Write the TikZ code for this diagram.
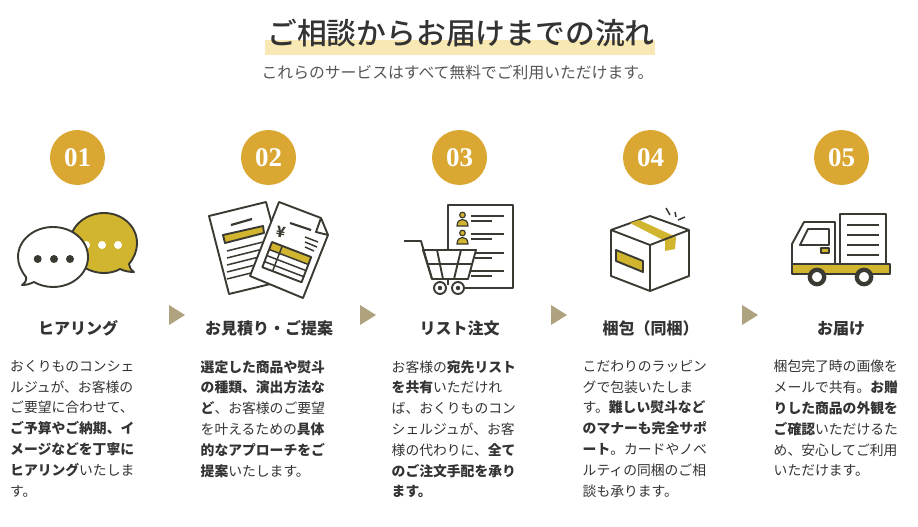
\documentclass[tikz,border=0pt]{standalone}
\usepackage{fontspec}
\setmainfont{Noto Sans CJK JP}
\newfontfamily\numfont{Liberation Serif}
\newfontfamily\titlefont{Noto Sans CJK JP Medium}
\usetikzlibrary{positioning}
\definecolor{flowGold}{HTML}{DAA732}
\definecolor{flowYellow}{HTML}{D2B52F}
\definecolor{flowMark}{HTML}{F8E8B4}
\definecolor{flowArrow}{HTML}{AFA27F}
\definecolor{flowLine}{HTML}{3A3A32}
\definecolor{textDark}{HTML}{333333}
\definecolor{textMuted}{HTML}{555555}
\tikzset{
  stepnum/.style={circle, fill=flowGold, minimum size=55pt, inner sep=0pt, text=white, font=\numfont\bfseries\fontsize{27}{27}\selectfont},
  stephead/.style={text=textDark, inner sep=0pt, font=\bfseries\fontsize{16}{18}\selectfont},
  stepbody/.style={anchor=north west, inner sep=0pt, align=left, text=textDark, font=\fontsize{13.8}{20.8}\selectfont},
  icon/.style={draw=flowLine, line width=1.9pt, line join=round},
  thin line/.style={draw=flowLine, line width=1.5pt},
  stepmark/.style={fill=flowArrow}
}
\begin{document}
\begin{tikzpicture}[x=1pt, y=-1pt]
  \useasboundingbox (0,0) rectangle (918,527);
  % title
  \fill[flowMark] (265,40) rectangle (655,55);
  \node[inner sep=0pt, text=textDark, font=\titlefont\fontsize{29.8}{32}\selectfont] (title) at (461,33) {ご相談からお届けまでの流れ};
  \node[inner sep=0pt, text=textMuted, font=\fontsize{15.8}{18}\selectfont] (subtitle) at (457.5,73) {これらのサービスはすべて無料でご利用いただけます。};
  % numbers
  \foreach \cx/\num in {77.5/01, 268.5/02, 459.5/03, 650.5/04, 841.5/05}
    \node[stepnum] (num\num) at (\cx,157.5) {\num};
  % triangles between the steps
  \foreach \tx in {169,360,551,742}
    \fill[stepmark] (\tx,305) -- (\tx+16,315) -- (\tx,325) -- cycle;
  % icon 1
  \draw[icon, fill=flowYellow] (134,272) .. controls (131,270) and (129,267) .. (129,264) .. controls (134,258) and (137,251) .. (137,243) .. controls (137,226) and (122,213) .. (104,213) .. controls (86,213) and (70,226) .. (70,243) .. controls (70,260) and (86,273) .. (104,273) .. controls (109,273) and (115,272) .. (120,269) .. controls (124,271) and (129,272) .. (134,272) -- cycle;
  \foreach \dx in {86,102,118}
    \fill[white] (\dx,245) circle (4);
  \draw[icon, fill=white] (22,285) .. controls (25,283) and (27,280) .. (26,277) .. controls (21,271) and (18,264) .. (18,257) .. controls (18,240) and (34,227) .. (53,227) .. controls (72,227) and (88,240) .. (88,257) .. controls (88,274) and (72,287) .. (53,287) .. controls (46,287) and (39,285) .. (34,282) .. controls (30,284) and (26,285) .. (22,285) -- cycle;
  \foreach \dx in {37.7,54,70}
    \fill[flowLine] (\dx,259) circle (4);
  % icon 2
  \draw[icon, fill=white] (209,216) -- (266,202) -- (287,280) -- (229,294) -- cycle;
  \draw[flowLine, line width=2.2pt] (231,225) -- (252,219);
  \draw[icon, fill=flowYellow] (223,235) -- (263,226) -- (264,233) -- (225,243) -- cycle;
  \foreach \ly in {251,258,265,272,279}
    \draw[thin line] (227,\ly) -- (275,\ly-12);
  \draw[icon, fill=white] (279,202) -- (321,218) -- (328,235) -- (303,298) -- (250,276) -- cycle;
  \draw[icon] (321,218) -- (316,232) -- (328,235);
  \draw[flowLine, line width=2.2pt] (290,223) -- (311,230);
  \node[rotate=-12, inner sep=0pt, text=flowLine, font=\bfseries\fontsize{15}{15}\selectfont] (yen) at (281,232) {¥};
  \draw[thin line] (305,237) -- (318,242);
  \draw[thin line] (305,242) -- (317,247);
  \draw[thin line] (305,247) -- (314,251);
  \begin{scope}[shift={(272,242)}, rotate=-21]
    \fill[flowYellow] (0,0) rectangle (42,8);
    \draw[icon] (0,0) rectangle (42,27);
    \foreach \ry in {8,14.5,21}
      \draw[thin line] (0,\ry) -- (42,\ry);
    \draw[thin line] (11,0) -- (11,27);
  \end{scope}
  % icon 3
  \draw[icon] (448,249) -- (448,205) -- (513,205) -- (513,288) -- (463,288);
  \foreach \py in {215,233} {
    \draw[flowLine, line width=1.2pt, fill=flowYellow] (462.5,\py) circle (2.8);
    \draw[flowLine, line width=1.2pt, fill=flowYellow] (457,\py+11) .. controls (457,\py+6) and (460,\py+4.5) .. (462.5,\py+4.5) .. controls (465,\py+4.5) and (468,\py+6) .. (468,\py+11) -- cycle;
  }
  \foreach \ly/\lx in {216/471,234/471,253/475,271/471} {
    \draw[thin line] (\lx,\ly) -- (504,\ly);
    \draw[thin line] (\lx,\ly+5) -- (492,\ly+5);
  }
  \draw[icon, fill=white] (423,250) -- (476,250) -- (468,279) -- (432,279) -- cycle;
  \draw[icon] (404,241) -- (421,241) -- (432,279);
  \draw[icon] (427,264) -- (473,264);
  \draw[icon] (437,250) -- (443,279);
  \draw[icon] (461,250) -- (454,279);
  \draw[icon] (448,279) -- (448,285);
  \foreach \wx in {440,458} {
    \draw[icon, fill=white] (\wx,288) circle (6);
    \fill[flowLine] (\wx,288) circle (2.2);
  }
  % icon 4
  \draw[icon, fill=white] (611,230) -- (650,216) -- (689,230) -- (689,276) -- (650,291) -- (611,276) -- cycle;
  \fill[flowYellow] (630,223) -- (639,220) -- (676,237) -- (675,249) -- (665,251) -- (665,241) -- cycle;
  \draw[icon] (611,230) -- (650,245) -- (689,230);
  \draw[icon] (650,245) -- (650,291);
  \draw[icon, fill=flowYellow] (616,250) -- (643,261) -- (643,272) -- (616,261) -- cycle;
  \draw[thin line] (666,208) -- (670,215);
  \draw[thin line] (675,212) -- (676,217);
  \draw[thin line] (678,220) -- (685,217);
  % icon 5
  \draw[icon] (840,264) -- (840,214) -- (886,214) -- (886,264);
  \foreach \ly in {225,235,245,255}
    \draw[thin line] (847,\ly) -- (879,\ly);
  \draw[icon] (792,264) -- (792,244) -- (804,222) -- (835,222) -- (835,264);
  \draw[icon] (800,245) -- (808,229) -- (829,229) -- (829,245) -- cycle;
  \draw[icon, line width=1.2pt, fill=flowYellow] (821,248) rectangle (829,253);
  \draw[icon, fill=flowYellow] (792,264) rectangle (890,274);
  \foreach \wx in {817,864}
    \draw[flowLine, line width=4.3pt, fill=white] (\wx,277) circle (7.2);
  % headings
  \node[stephead] (head1) at (78,328.5) {ヒアリング};
  \node[stephead] (head2) at (269,328.5) {お見積り・ご提案};
  \node[stephead] (head3) at (459.5,328.5) {リスト注文};
  \node[stephead] (head4) at (650.5,328.5) {梱包（同梱）};
  \node[stephead] (head5) at (841,328.5) {お届け};
  % bodies
  \node[stepbody] (body1) at (10,360) {おくりものコンシェ\\ルジュが、お客様の\\ご要望に合わせて、\\\textbf{ご予算やご納期、イ}\\\textbf{メージなどを丁寧に}\\\textbf{ヒアリング}いたしま\\す。};
  \node[stepbody] (body2) at (200.5,360) {\textbf{選定した商品や熨斗}\\\textbf{の種類、演出方法な}\\\textbf{ど}、お客様のご要望\\を叶えるための\textbf{具体}\\\textbf{的なアプローチをご}\\\textbf{提案}いたします。};
  \node[stepbody] (body3) at (391.5,360) {お客様の\textbf{宛先リスト}\\\textbf{を共有}いただけれ\\ば、おくりものコン\\シェルジュが、お客\\様の代わりに、\textbf{全て}\\\textbf{のご注文手配を承り}\\\textbf{ます。}};
  \node[stepbody] (body4) at (582.5,360) {こだわりのラッピン\\グで包装いたしま\\す。\textbf{難しい熨斗など}\\\textbf{のマナーも完全サポ}\\\textbf{ート}。カードやノベ\\ルティの同梱のご相\\談も承ります。};
  \node[stepbody] (body5) at (773.5,360) {梱包完了時の画像を\\メールで共有。\textbf{お贈}\\\textbf{りした商品の外観を}\\\textbf{ご確認}いただけるた\\め、安心してご利用\\いただけます。};
\end{tikzpicture}
\end{document}
